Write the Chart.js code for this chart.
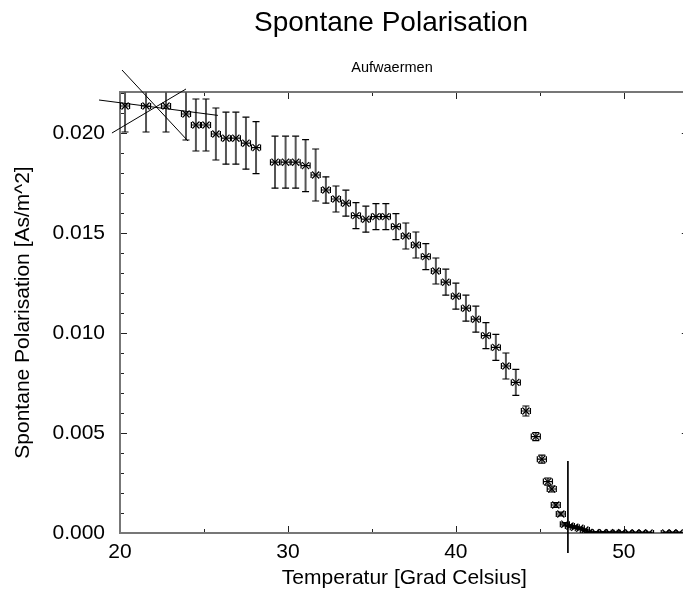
<!DOCTYPE html>
<html>
<head>
<meta charset="utf-8">
<script src="https://cdn.jsdelivr.net/npm/chart.js@4.4.0/dist/chart.umd.min.js"></script>
<style>
    html, body { margin: 0; padding: 0; background: #fff; overflow: hidden; }
    #wrap { position: relative; width: 683px; height: 594px; overflow: hidden; }
    canvas { position: absolute; left: 0; top: 0; }
    .head { position: absolute; transform: translateX(-50%); white-space: nowrap; line-height: 1; color: #000;
            font-family: "Liberation Sans", Arial, sans-serif; }
    #title { left: 391px; top: 8px; font-size: 28px; }
    #subtitle { left: 392px; top: 60px; font-size: 14.5px; }
</style>
</head>
<body>
<div id="wrap">
    <canvas id="polChart" width="695" height="594"></canvas>
    <div id="title" class="head">Spontane Polarisation</div>
    <div id="subtitle" class="head">Aufwaermen</div>
</div>
<script>
// Messwerte (Aufwaermen)
const temperature = [
    20.30, 21.55, 22.74, 23.93, 24.52, 25.12, 25.71, 26.31, 26.90, 27.50, 28.10,
    29.23, 29.86, 30.46, 31.05, 31.65, 32.26, 32.86, 33.45, 34.05, 34.64,
    35.24, 35.83, 36.43, 37.02, 37.62, 38.21, 38.81, 39.40, 40.00, 40.60,
    41.19, 41.79, 42.38, 42.98, 43.57, 44.17, 44.76, 45.12, 45.48, 45.71,
    45.95, 46.25, 46.49, 46.79, 47.08, 47.38, 47.68, 47.92,
    48.33, 48.75, 49.15, 49.52, 49.88, 50.30, 50.70, 51.10, 51.50, 52.50, 52.90, 53.30
];
const polarisation = [
    0.02135, 0.02135, 0.02135, 0.02095, 0.0204, 0.0204, 0.01995, 0.01974, 0.01974, 0.01949, 0.01927,
    0.01854, 0.01854, 0.01854, 0.01837, 0.0179, 0.01715, 0.0167, 0.01649, 0.01587, 0.01569,
    0.01582, 0.01582, 0.01532, 0.01485, 0.0144, 0.01382, 0.0131, 0.01254, 0.01184, 0.01124,
    0.01069, 0.00987, 0.00928, 0.00835, 0.00753, 0.0061, 0.00482, 0.00369, 0.00257, 0.0022,
    0.0014, 0.00095, 0.00044, 0.00035, 0.00029, 0.00024, 0.00015, 0.00003,
    0.00002, 0.00002, 0.00001, 0.00001, 0.00001, 0.0, 0.0, 0.0, 0.0, 0.0, 0.0, 0.0
];
const tempError = [
    0.27, 0.27, 0.27, 0.27, 0.27, 0.27, 0.27, 0.27, 0.27, 0.27, 0.27,
    0.27, 0.27, 0.27, 0.27, 0.27, 0.27, 0.27, 0.27, 0.27, 0.27,
    0.27, 0.27, 0.27, 0.27, 0.27, 0.27, 0.27, 0.27, 0.27, 0.27,
    0.27, 0.27, 0.27, 0.27, 0.27, 0.27, 0.27, 0.27, 0.27, 0.27,
    0.27, 0.27, 0.27, 0.27, 0.27, 0.27, 0.27, 0.27,
    0.27, 0.27, 0.27, 0.27, 0.27, 0.27, 0.27, 0.27, 0.27, 0.27, 0.27, 0.27
];
const polError = [
    0.0013, 0.0013, 0.0013, 0.0013, 0.0013, 0.0013, 0.0013, 0.0013, 0.0013, 0.0013, 0.0013,
    0.0013, 0.0013, 0.0013, 0.0013, 0.0013, 0.00066, 0.00065, 0.00065, 0.00065, 0.00065,
    0.00065, 0.00065, 0.00065, 0.00065, 0.00065, 0.00065, 0.00065, 0.00065, 0.00065, 0.00065,
    0.00065, 0.00065, 0.00065, 0.00065, 0.00065, 0.00025, 0.0002, 0.0002, 0.00018, 0.00015,
    0.00012, 0.0001, 0.00008, 0.00006, 0.00005, 0.00005, 0.00005, 0.00005,
    0.00005, 0.00005, 0.00005, 0.00005, 0.00005, 0.00005, 0.00005, 0.00005, 0.00005, 0.00005, 0.00005, 0.00005
];

// Hilfslinien (Tangenten, Tc)
const tangentA = [[20.12, 0.02315], [24.05, 0.0196]];
const tangentB = [[19.52, 0.0200], [23.93, 0.0222]];
const tangentC = [[18.75, 0.02165], [25.83, 0.02088]];
const curieLine = [[46.67, 0.0036], [46.67, -0.001]];

const xTicks = [20, 25, 30, 35, 40, 45, 50];
const yTicks = [0, 0.001, 0.002, 0.003, 0.004, 0.005, 0.006, 0.007, 0.008, 0.009, 0.010,
    0.011, 0.012, 0.013, 0.014, 0.015, 0.016, 0.017, 0.018, 0.019, 0.020, 0.021, 0.022];

const FONT = "'Liberation Sans', Arial, sans-serif";

function toPoints(xs, ys) {
    return xs.map((x, i) => ({ x: x, y: ys[i] }));
}
function pairToPoints(pair) {
    return pair.map(p => ({ x: p[0], y: p[1] }));
}

// Rahmen + Tickmarken nach innen
const framePlugin = {
    id: 'frame',
    beforeDatasetsDraw(chart) {
        const { ctx, chartArea: a, scales } = chart;
        ctx.save();
        ctx.strokeStyle = '#222';
        ctx.lineWidth = 1;
        ctx.beginPath();
        xTicks.forEach(v => {
            const px = Math.round(scales.x.getPixelForValue(v)) + 0.5;
            const len = v % 10 === 0 ? 7 : 4;
            ctx.moveTo(px, a.bottom); ctx.lineTo(px, a.bottom - len);
            ctx.moveTo(px, a.top); ctx.lineTo(px, a.top + len);
        });
        yTicks.forEach(v => {
            const py = Math.round(scales.y.getPixelForValue(v)) + 0.5;
            const len = Math.round(v * 1000) % 5 === 0 ? 7 : 4;
            ctx.moveTo(a.left, py); ctx.lineTo(a.left + len, py);
            ctx.moveTo(a.right, py); ctx.lineTo(a.right - len, py);
        });
        ctx.stroke();
        ctx.strokeStyle = '#777';
        ctx.lineWidth = 2;
        ctx.strokeRect(a.left, a.top, a.right - a.left, a.bottom - a.top);
        ctx.restore();
    }
};

// Fehlerbalken in x und y
const errorBarPlugin = {
    id: 'errorBars',
    beforeDatasetsDraw(chart) {
        const { ctx, chartArea: a, scales } = chart;
        const sx = scales.x, sy = scales.y;
        ctx.save();
        ctx.beginPath();
        ctx.rect(a.left, a.top, a.right - a.left, a.bottom - a.top);
        ctx.clip();
        temperature.forEach((t, i) => {
            const p = polarisation[i];
            const cx = sx.getPixelForValue(t);
            const cy = sy.getPixelForValue(p);
            const yTop = sy.getPixelForValue(p + polError[i]);
            const yBot = sy.getPixelForValue(p - polError[i]);
            const xL = sx.getPixelForValue(t - tempError[i]);
            const xR = sx.getPixelForValue(t + tempError[i]);
            ctx.strokeStyle = '#555';
            ctx.lineWidth = 2;
            ctx.beginPath();
            ctx.moveTo(cx, yTop); ctx.lineTo(cx, yBot);
            ctx.stroke();
            ctx.strokeStyle = '#000';
            ctx.lineWidth = 1.2;
            ctx.beginPath();
            ctx.moveTo(cx - 3.5, yTop); ctx.lineTo(cx + 3.5, yTop);
            ctx.moveTo(cx - 3.5, yBot); ctx.lineTo(cx + 3.5, yBot);
            ctx.moveTo(xL, cy); ctx.lineTo(xR, cy);
            ctx.moveTo(xL, cy - 3); ctx.lineTo(xL, cy + 3);
            ctx.moveTo(xR, cy - 3); ctx.lineTo(xR, cy + 3);
            ctx.stroke();
        });
        ctx.restore();
    }
};

const lineStyle = {
    showLine: true,
    pointRadius: 0,
    borderColor: '#000',
    borderWidth: 1,
    clip: false,
    fill: false
};

new Chart(document.getElementById('polChart').getContext('2d'), {
    type: 'scatter',
    data: {
        datasets: [
            {
                label: 'Polarisation',
                data: toPoints(temperature, polarisation),
                pointStyle: 'crossRot',
                pointRadius: 5,
                borderColor: '#000',
                backgroundColor: '#000',
                borderWidth: 1.2,
                showLine: false
            },
            Object.assign({ label: 'A', data: pairToPoints(tangentA) }, lineStyle),
            Object.assign({ label: 'B', data: pairToPoints(tangentB) }, lineStyle),
            Object.assign({ label: 'C', data: pairToPoints(tangentC) }, lineStyle),
            Object.assign({ label: 'Tc', data: pairToPoints(curieLine) }, lineStyle)
        ]
    },
    options: {
        responsive: false,
        animation: false,
        layout: { padding: { top: 92, right: 0, bottom: 0, left: 0 } },
        plugins: {
            legend: { display: false },
            tooltip: { enabled: false },
            title: { display: false }
        },
        scales: {
            x: {
                type: 'linear',
                min: 20,
                max: 53.87,
                afterBuildTicks: s => { s.ticks = xTicks.map(v => ({ value: v })); },
                afterFit: s => { s.height = 61; },
                grid: { display: false, drawTicks: false },
                border: { display: false },
                ticks: {
                    autoSkip: false,
                    maxRotation: 0,
                    padding: 7,
                    color: '#000',
                    font: { family: FONT, size: 21 },
                    callback: v => (v % 10 === 0 ? String(v) : '')
                },
                title: {
                    display: true,
                    text: 'Temperatur [Grad Celsius]',
                    color: '#000',
                    padding: { top: 0, bottom: 3 },
                    font: { family: FONT, size: 21 }
                }
            },
            y: {
                type: 'linear',
                min: 0,
                max: 0.02205,
                afterBuildTicks: s => { s.ticks = yTicks.map(v => ({ value: v })); },
                afterFit: s => { s.width = 120; },
                grid: { display: false, drawTicks: false },
                border: { display: false },
                ticks: {
                    autoSkip: false,
                    padding: 15,
                    color: '#000',
                    font: { family: FONT, size: 21 },
                    callback: v => (Math.round(v * 1000) % 5 === 0 ? v.toFixed(3) : '')
                },
                title: {
                    display: true,
                    text: 'Spontane Polarisation [As/m^2]',
                    color: '#000',
                    padding: { top: 11, bottom: 0 },
                    font: { family: FONT, size: 21 }
                }
            }
        }
    },
    plugins: [framePlugin, errorBarPlugin]
});
</script>
</body>
</html>
